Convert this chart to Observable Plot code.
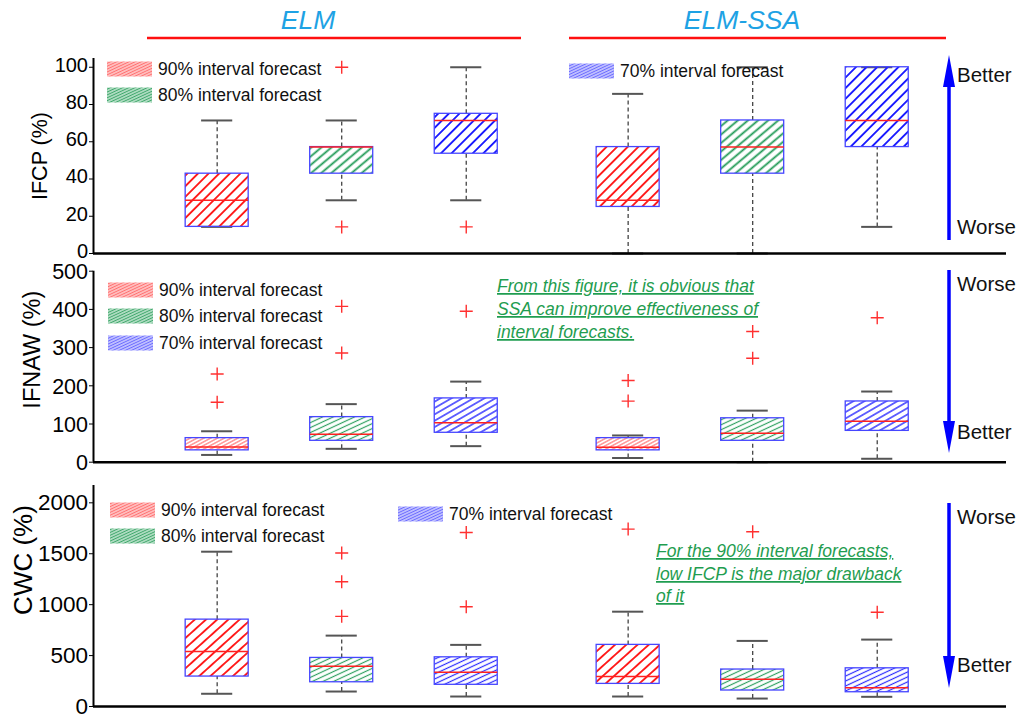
<!DOCTYPE html>
<html><head><meta charset="utf-8">
<script src="https://cdn.jsdelivr.net/npm/d3@7"></script>
<script src="https://cdn.jsdelivr.net/npm/@observablehq/plot@0.6"></script>
<style>
html,body{margin:0;padding:0;background:#fff;}
#root{position:relative;width:1024px;height:721px;overflow:hidden;font-family:"Liberation Sans",Arial,sans-serif;}
#root svg{position:absolute;left:0;}
</style></head><body><div id="root"></div>
<script>
// ---------------- data ----------------
const models = ["ELM", "ELM-SSA"];
const levels = ["90% interval forecast", "80% interval forecast", "70% interval forecast"];

// order of boxes: ELM 90/80/70, ELM-SSA 90/80/70
const ifcpTicks = [0, 20, 40, 60, 80, 100];
const ifcpLo  = [14.29, 28.57, 28.57, 0, 0, 14.29];
const ifcpQ1  = [14.29, 42.86, 53.57, 25.0, 42.86, 57.14];
const ifcpMed = [28.57, 57.14, 71.43, 28.57, 57.14, 71.43];
const ifcpQ3  = [42.86, 57.14, 75.0, 57.14, 71.43, 100];
const ifcpHi  = [71.43, 71.43, 100, 85.71, 100, 100];
const ifcpOut = [[], [100, 14.29], [14.29], [], [], []];

const ifnawTicks = [0, 100, 200, 300, 400, 500];
const ifnawLo  = [19, 35, 42, 11, 0, 9];
const ifnawQ1  = [31, 56, 77, 31, 56, 82];
const ifnawMed = [40, 73, 103, 39, 76, 107];
const ifnawQ3  = [63, 118, 167, 63, 115, 159];
const ifnawHi  = [81, 152, 211, 70, 135, 185];
const ifnawOut = [[231, 157], [408, 286], [395], [214, 160], [342, 272], [378]];

const cwcTicks = [0, 500, 1000, 1500, 2000];
const cwcLo  = [125, 147, 98, 98, 78, 95];
const cwcQ1  = [294, 238, 213, 222, 157, 140];
const cwcMed = [539, 395, 336, 294, 268, 183];
const cwcQ3  = [853, 477, 483, 605, 363, 375];
const cwcHi  = [1520, 696, 605, 931, 644, 657];
const cwcOut = [[], [1507, 1225, 885], [1709, 980], [1742], [1716], [925]];

const annotation2 = ["From this figure, it is obvious that", "SSA can improve effectiveness of", "interval forecasts."];
const annotation3 = ["For the 90% interval forecasts,", "low IFCP is the major drawback", "of it"];

// ---------------- layout / style ----------------
const groupGap = 3.3, boxHalf = 0.253, capHalf = 0.125;
const xDomain = [-0.993, 6.338];
const FONT = "Liberation Sans, Arial, sans-serif";

const panels = [
  {id: "p1", label: "IFCP (%)", ticks: ifcpTicks, lo: ifcpLo, q1: ifcpQ1, med: ifcpMed, q3: ifcpQ3, hi: ifcpHi, out: ifcpOut,
   top: 48, height: 222, mt: 10, mb: 17, ymax: 104.7, tickFont: 20, tickDy: -2, labelFont: 21.5, labelDx: -53, labelDy: 0,
   hatch: [{c: "#ff1a1a", a: 45, s: 7.5, w: 1.9}, {c: "#1f9a55", a: 40, s: 6.5, w: 1.8}, {c: "#1a1aff", a: 45, s: 7.5, w: 1.9}]},
  {id: "p2", label: "IFNAW (%)", ticks: ifnawTicks, lo: ifnawLo, q1: ifnawQ1, med: ifnawMed, q3: ifnawQ3, hi: ifnawHi, out: ifnawOut,
   top: 262, height: 215, mt: 8.7, mb: 15.3, ymax: 500, tickFont: 21.5, tickDy: 1, labelFont: 23.5, labelDx: -61, labelDy: -17,
   hatch: [{c: "#ff6060", a: 28, s: 3.2, w: 1.0}, {c: "#2fa060", a: 25, s: 4.5, w: 1.2}, {c: "#2a2aff", a: 30, s: 5.5, w: 1.4}]},
  {id: "p3", label: "CWC (%)", ticks: cwcTicks, lo: cwcLo, q1: cwcQ1, med: cwcMed, q3: cwcQ3, hi: cwcHi, out: cwcOut,
   top: 477, height: 244, mt: 8, mb: 15, ymax: 2170, tickFont: 22.5, tickDy: 0, labelFont: 26, labelDx: -70, labelDy: -36,
   hatch: [{c: "#ff1a1a", a: 42, s: 7.5, w: 1.9}, {c: "#2fa060", a: 25, s: 4.5, w: 1.2}, {c: "#2a2aff", a: 25, s: 4.5, w: 1.2}]}
];

const plusSymbol = {draw(ctx, size) {
  const r = Math.sqrt(size / Math.PI);
  ctx.moveTo(-r, 0); ctx.lineTo(r, 0); ctx.moveTo(0, -r); ctx.lineTo(0, r);
}};

const root = document.getElementById("root");

function makePanel(P) {
  const rows = [], outs = [];
  models.forEach((m, mi) => levels.forEach((l, li) => {
    const k = mi * levels.length + li;
    const pos = mi * groupGap + li;
    rows.push({model: m, level: l, li, pos, lo: P.lo[k], q1: P.q1[k], med: P.med[k], q3: P.q3[k], hi: P.hi[k]});
    P.out[k].forEach(v => outs.push({pos, v}));
  }));
  const rects = levels.map((l, li) => Plot.rect(rows.filter(d => d.li === li), {
    x1: d => d.pos - boxHalf, x2: d => d.pos + boxHalf, y1: "q1", y2: "q3",
    fill: `url(#${P.id}-h${li})`, stroke: "#4646ff", strokeWidth: 1.3
  }));
  const svg = Plot.plot({
    width: 1024, height: P.height,
    marginLeft: 93, marginRight: 18, marginTop: P.mt, marginBottom: P.mb,
    x: {domain: xDomain, axis: null},
    y: {domain: [0, P.ymax]},
    style: {background: "transparent", overflow: "visible", fontFamily: FONT, color: "black"},
    marks: [
      Plot.ruleX(rows, {x: "pos", y1: "q3", y2: "hi", stroke: "#444", strokeDasharray: "4,3", strokeWidth: 1.3}),
      Plot.ruleX(rows, {x: "pos", y1: "lo", y2: "q1", stroke: "#444", strokeDasharray: "4,3", strokeWidth: 1.3}),
      Plot.ruleY(rows, {y: "hi", x1: d => d.pos - capHalf, x2: d => d.pos + capHalf, stroke: "#555", strokeWidth: 2}),
      Plot.ruleY(rows, {y: "lo", x1: d => d.pos - capHalf, x2: d => d.pos + capHalf, stroke: "#555", strokeWidth: 2}),
      ...rects,
      Plot.ruleY(rows, {y: "med", x1: d => d.pos - boxHalf, x2: d => d.pos + boxHalf, stroke: "#ff2020", strokeWidth: 1.5}),
      Plot.dot(outs, {x: "pos", y: "v", symbol: plusSymbol, r: 6.5, stroke: "#ff3030", strokeWidth: 1.4, fill: "none"}),
      Plot.axisY(P.ticks, {tickSize: 4, tickPadding: 1.5, fontSize: P.tickFont, label: null, tickFormat: d => String(d)}),
      Plot.ruleX([xDomain[0]], {y1: 0, y2: P.ymax, stroke: "black", strokeWidth: 2}),
      Plot.ruleY([0], {stroke: "black", strokeWidth: 2.5}),
      Plot.text([P.label], {text: d => d, frameAnchor: "left", textAnchor: "middle", rotate: -90,
        dx: P.labelDx, dy: P.labelDy, fontSize: P.labelFont, fill: "black"})
    ]
  });
  // nudge tick labels vertically (appending to Plot's own transform) to keep neighbouring panels' labels apart
  svg.querySelectorAll("[aria-label='y-axis tick label']").forEach(g => {
    const t = g.getAttribute("transform") || "";
    g.setAttribute("transform", `${t} translate(0,${P.tickDy})`.trim());
  });
  svg.style.top = P.top + "px";
  root.appendChild(svg);
}
panels.forEach(makePanel);

// ---------------- overlay: patterns, header, legends, notes, arrows ----------------
const ov = d3.create("svg").attr("width", 1024).attr("height", 721).style("top", "0px").style("pointer-events", "none")
  .style("font-family", FONT);
const defs = ov.append("defs");
function addPattern(id, h) {
  const p = defs.append("pattern").attr("id", id).attr("patternUnits", "userSpaceOnUse")
    .attr("width", 10).attr("height", h.s).attr("patternTransform", `rotate(${-h.a})`);
  if (h.bg) p.append("rect").attr("width", 10).attr("height", h.s).attr("fill", h.bg);
  p.append("line").attr("x1", -1).attr("x2", 11).attr("y1", h.s / 2).attr("y2", h.s / 2)
    .attr("stroke", h.c).attr("stroke-width", h.w);
}
panels.forEach(P => P.hatch.forEach((h, li) => addPattern(`${P.id}-h${li}`, h)));
const legendHatch = [
  {c: "#ff7070", bg: "#ffd0d0", a: 25, s: 2.6, w: 1.2},
  {c: "#3fa76b", bg: "#c8e8d4", a: 25, s: 2.6, w: 1.2},
  {c: "#6a6aff", bg: "#d2d2ff", a: 25, s: 2.6, w: 1.2}
];
legendHatch.forEach((h, li) => addPattern(`lg-h${li}`, h));

// header
const headerPos = [{x: 308, l1: 147, l2: 521}, {x: 742, l1: 569, l2: 946}];
models.forEach((m, i) => {
  const H = headerPos[i];
  ov.append("text").attr("x", H.x).attr("y", 29).attr("text-anchor", "middle")
    .attr("font-size", 26.5).attr("font-style", "italic").attr("fill", "#1ea2e4").text(m);
  ov.append("line").attr("x1", H.l1).attr("x2", H.l2).attr("y1", 38).attr("y2", 38)
    .attr("stroke", "#ff1010").attr("stroke-width", 2.5);
});

// legends
const legendPos = [
  [{li: 0, x: 107, y: 69}, {li: 1, x: 107, y: 95}, {li: 2, x: 569, y: 71}],
  [{li: 0, x: 108, y: 290}, {li: 1, x: 108, y: 316}, {li: 2, x: 108, y: 343}],
  [{li: 0, x: 110, y: 510}, {li: 1, x: 110, y: 536}, {li: 2, x: 398, y: 514}]
];
legendPos.flat().forEach(L => {
  ov.append("rect").attr("x", L.x).attr("y", L.y - 7.5).attr("width", 45).attr("height", 15)
    .attr("fill", `url(#lg-h${L.li})`);
  ov.append("text").attr("x", L.x + 51).attr("y", L.y + 6).attr("font-size", 17.5).attr("fill", "#111")
    .text(levels[L.li]);
});

// annotations
function note(lines, x, ys) {
  lines.forEach((t, i) => ov.append("text").attr("x", x).attr("y", ys[i]).attr("font-size", 17.5)
    .attr("font-style", "italic").attr("fill", "#1f9d50").style("text-decoration", "underline").text(t));
}
note(annotation2, 497, [292, 315, 338]);
note(annotation3, 656, [557, 580, 602]);

// arrows
function arrow(x, yTail, yTip, up) {
  const head = 32, hw = 6;
  const yBase = up ? yTip + head : yTip - head;
  ov.append("line").attr("x1", x).attr("x2", x).attr("y1", yTail).attr("y2", yBase)
    .attr("stroke", "#0000ff").attr("stroke-width", 3.5);
  ov.append("path").attr("d", `M${x},${yTip}L${x - hw},${yBase}L${x + hw},${yBase}Z`).attr("fill", "#0000ff");
}
function label(t, y) {
  ov.append("text").attr("x", 957).attr("y", y).attr("font-size", 20.5).attr("fill", "#111").text(t);
}
arrow(949, 240, 55, true);  label("Better", 82);  label("Worse", 234);
arrow(949, 270, 453, false); label("Worse", 291); label("Better", 439);
arrow(949, 503, 688, false); label("Worse", 524); label("Better", 672);

root.appendChild(ov.node());
</script></body></html>
